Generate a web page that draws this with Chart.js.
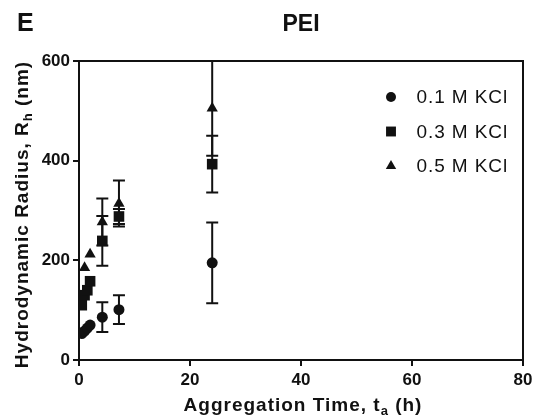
<!DOCTYPE html>
<html>
<head>
<meta charset="utf-8">
<script src="https://cdn.jsdelivr.net/npm/chart.js@4.4.1/dist/chart.umd.min.js"></script>
<style>
  body { margin: 0; background: #fff; }
  #wrap { width: 539px; height: 419px; position: relative; }
</style>
</head>
<body>
<div id="wrap"><canvas id="c"></canvas></div>
<script>
// aggregation time (h) and hydrodynamic radius (nm) for each salt concentration
const time01 = [0.5, 1, 1.5, 2, 4.2, 7.2, 24];
const rh01 = [53, 58, 64, 70, 86, 101, 195];
const err01 = [0, 0, 0, 0, 30, 29, 81];

const time03 = [0.5, 1, 1.5, 2, 4.2, 7.2, 24];
const rh03 = [110, 130, 140, 158, 239, 288, 393];
const err03 = [0, 0, 0, 0, 50, 15, 57];

const time05 = [1, 2, 4.2, 7.2, 24];
const rh05 = [185, 212, 277, 314, 505];
const err05 = [0, 0, 47, 46, 95];

const seriesLabels = ["0.1 M KCl", "0.3 M KCl", "0.5 M KCl"];
const xTicks = [0, 20, 40, 60, 80];
const yTicks = [0, 200, 400, 600];

const INK = '#111';
const FONT = 'Arial, "Liberation Sans", sans-serif';

function toPoints(xs, ys, es) {
    return xs.map((x, i) => ({ x: x, y: ys[i], e: es[i] }));
}

const datasets = [
    { label: seriesLabels[0], data: toPoints(time01, rh01, err01), pointStyle: 'circle', pointRadius: 5.5, legendRadius: 5 },
    { label: seriesLabels[1], data: toPoints(time03, rh03, err03), pointStyle: 'rect', pointRadius: 7.5, legendRadius: 7 },
    { label: seriesLabels[2], data: toPoints(time05, rh05, err05), pointStyle: 'triangle', pointRadius: 6.5, legendRadius: 6 }
];
datasets.forEach((d) => {
    d.backgroundColor = INK;
    d.borderColor = INK;
    d.borderWidth = 0;
    d.pointHoverRadius = d.pointRadius;
    d.showLine = false;
});

// error bars, frame, titles and legend
const decor = {
    id: 'decor',
    beforeDatasetsDraw(chart) {
        const ctx = chart.ctx;
        const xs = chart.scales.x, ys = chart.scales.y;
        ctx.save();
        ctx.strokeStyle = INK;
        ctx.lineWidth = 2;
        chart.data.datasets.forEach((ds) => {
            ds.data.forEach((p) => {
                if (!p.e) return;
                const px = xs.getPixelForValue(p.x);
                const top = ys.getPixelForValue(p.y + p.e);
                const bot = ys.getPixelForValue(p.y - p.e);
                ctx.beginPath();
                ctx.moveTo(px, top); ctx.lineTo(px, bot);
                ctx.moveTo(px - 6, top); ctx.lineTo(px + 6, top);
                ctx.moveTo(px - 6, bot); ctx.lineTo(px + 6, bot);
                ctx.stroke();
            });
        });
        ctx.restore();
    },
    afterDraw(chart) {
        const ctx = chart.ctx;
        const a = chart.chartArea;
        ctx.save();
        ctx.strokeStyle = INK;
        ctx.lineWidth = 2;
        ctx.beginPath();
        ctx.moveTo(a.left, a.top); ctx.lineTo(a.right, a.top); ctx.lineTo(a.right, a.bottom);
        ctx.stroke();

        ctx.fillStyle = INK;
        ctx.textBaseline = 'alphabetic';
        ctx.font = 'bold 25px ' + FONT;
        ctx.textAlign = 'left';
        ctx.fillText('E', 17, 31);
        ctx.font = 'bold 23px ' + FONT;
        ctx.textAlign = 'center';
        ctx.fillText('PEI', 301, 31);

        // x axis title with subscript
        drawSubText(ctx, ['Aggregation Time, t', 'a', ' (h)'], 303, 411);

        // y axis title, rotated
        ctx.save();
        ctx.translate(28, (a.top + a.bottom) / 2 + 4);
        ctx.rotate(-Math.PI / 2);
        drawSubText(ctx, ['Hydrodynamic Radius, R', 'h', ' (nm)'], 0, 0);
        ctx.restore();

        // legend
        const rows = [97, 131.5, 166];
        chart.data.datasets.forEach((ds, i) => {
            ctx.fillStyle = INK;
            ctx.strokeStyle = INK;
            Chart.helpers.drawPoint(ctx, { pointStyle: ds.pointStyle, radius: ds.legendRadius, rotation: 0, borderWidth: 0 }, 391, rows[i]);
            ctx.font = '19px ' + FONT;
            ctx.letterSpacing = '0.9px';
            ctx.textAlign = 'left';
            ctx.textBaseline = 'middle';
            ctx.fillText(ds.label, 416.5, rows[i] + 1);
            ctx.letterSpacing = '0px';
        });
        ctx.restore();
    }
};

function drawSubText(ctx, parts, cx, y) {
    const big = 'bold 19px ' + FONT, small = 'bold 13px ' + FONT;
    ctx.textBaseline = 'alphabetic';
    ctx.textAlign = 'left';
    ctx.letterSpacing = '1px';
    ctx.font = big;
    const w0 = ctx.measureText(parts[0]).width;
    const w2 = ctx.measureText(parts[2]).width;
    ctx.font = small;
    const w1 = ctx.measureText(parts[1]).width;
    let x = cx - (w0 + w1 + w2) / 2;
    ctx.font = big;
    ctx.fillText(parts[0], x, y);
    x += w0;
    ctx.font = small;
    ctx.fillText(parts[1], x, y + 4);
    x += w1;
    ctx.font = big;
    ctx.fillText(parts[2], x, y);
    ctx.letterSpacing = '0px';
}

const tickFont = { family: FONT, size: 17, weight: 'bold' };

new Chart(document.getElementById('c'), {
    type: 'scatter',
    data: { datasets: datasets },
    options: {
        responsive: true,
        maintainAspectRatio: false,
        animation: false,
        layout: { padding: { left: 0, top: 61, right: 16, bottom: 0 } },
        plugins: {
            legend: { display: false },
            tooltip: { enabled: false },
            title: { display: false }
        },
        scales: {
            x: {
                type: 'linear',
                min: xTicks[0],
                max: xTicks[xTicks.length - 1],
                afterBuildTicks: (s) => { s.ticks = xTicks.map((v) => ({ value: v })); },
                afterFit: (s) => { s.height = 59; },
                ticks: { font: tickFont, color: INK, padding: 4 },
                grid: { drawOnChartArea: false, drawTicks: true, tickLength: 6, color: INK, lineWidth: 2 },
                border: { color: INK, width: 2 },
                title: { display: false }
            },
            y: {
                type: 'linear',
                min: yTicks[0],
                max: yTicks[yTicks.length - 1],
                afterBuildTicks: (s) => { s.ticks = yTicks.map((v) => ({ value: v })); },
                afterFit: (s) => { s.width = 79; },
                ticks: { font: tickFont, color: INK, padding: 3 },
                grid: { drawOnChartArea: false, drawTicks: true, tickLength: 6, color: INK, lineWidth: 2 },
                border: { color: INK, width: 2 },
                title: { display: false }
            }
        }
    },
    plugins: [decor]
});
</script>
</body>
</html>
